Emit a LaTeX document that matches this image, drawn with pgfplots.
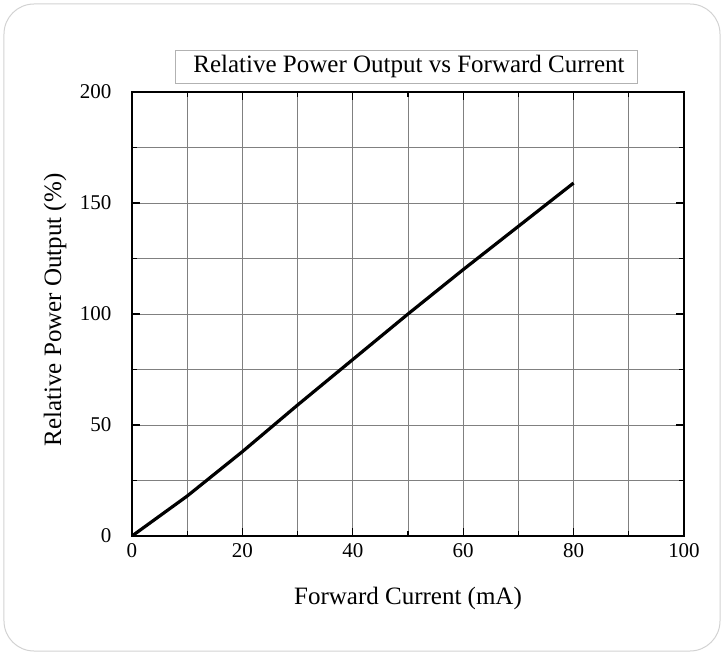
\documentclass[border=0pt]{standalone}
\usepackage{pgfplots}
\pgfplotsset{compat=1.18}
\usepackage{fontspec}
\setmainfont{Liberation Serif}
\begin{document}
\begin{tikzpicture}
\useasboundingbox (-132pt,-118pt) rectangle (592pt,536pt);
\draw[gray!35, line width=1pt, rounded corners=30pt] (-128pt,-115pt) rectangle (588pt,532pt);
\begin{axis}[
  scale only axis, width=552pt, height=444pt,
  at={(0pt,0pt)}, anchor=south west,
  xmin=0, xmax=100, ymin=0, ymax=200,
  xtick={0,20,...,100}, minor xtick={10,30,...,90},
  ytick={0,50,...,200}, minor ytick={25,75,125,175},
  grid=both,
  major grid style={black!50, line width=0.9pt},
  minor grid style={black!50, line width=0.9pt},
  tick align=inside,
  axis line style={line width=1.6pt},
  major tick length=8pt, minor tick length=5pt,
  tick style={black, line width=1.2pt},
  /pgf/number format/assume math mode=true,
  ticklabel style={font=\fontsize{21}{24}\selectfont},
  xticklabel style={yshift=-4pt},
  yticklabel style={xshift=-17pt},
  xlabel={Forward Current (mA)},
  ylabel={Relative Power Output (\%)},
  label style={font=\fontsize{25}{30}\selectfont},
  xlabel style={at={(axis description cs:0.5,-0.14)}, anchor=center},
  ylabel style={at={(axis description cs:-0.1395,0.509)}, anchor=center, rotate=0},
]
\addplot[black, line width=3.2pt] coordinates {(0,0)(10,18)(20,38)(30,59)(40,79.5)(50,100)(60,120)(70,139.5)(80,159)};
\end{axis}
\node[draw=gray!60, line width=0.8pt, minimum width=462pt, minimum height=33pt, inner sep=0pt, font=\fontsize{25}{30}\selectfont] at (274pt,469.5pt) {\hspace{6pt}Relative Power Output vs Forward Current};
\end{tikzpicture}
\end{document}
